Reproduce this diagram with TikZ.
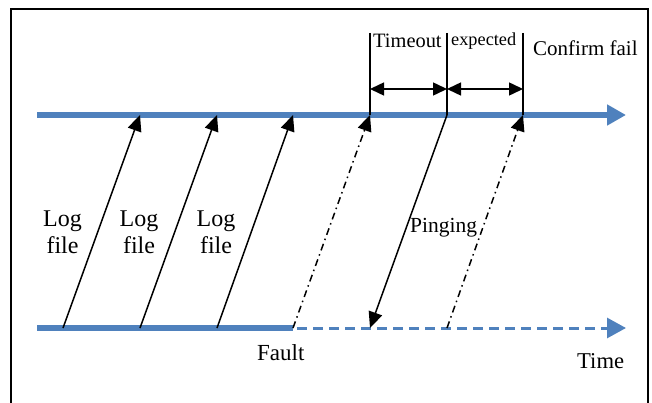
\documentclass[tikz,border=0pt]{standalone}
\usepackage{fontspec}
\setmainfont{Liberation Serif}
\usetikzlibrary{arrows.meta}
\definecolor{tlblue}{RGB}{79,129,189}
\tikzset{
  timeline/.style={draw=tlblue, line width=6.5pt},
  futureline/.style={draw=tlblue, line width=3pt, dash pattern=on 10pt off 6pt},
  bluetip/.style={-{Triangle[length=19pt,width=20pt]}},
  msg/.style={draw=black, line width=1.5pt, -{Triangle[length=16pt,width=14pt]}},
  probe/.style={msg, dash pattern=on 7pt off 4pt on 1.5pt off 4pt},
  marker/.style={draw=black, line width=1.5pt},
  span/.style={draw=black, line width=1.5pt, {Triangle[length=14pt,width=13pt]}-{Triangle[length=14pt,width=13pt]}},
  lbl/.style={inner sep=0pt, anchor=base west, text=black},
}
\begin{document}
\begin{tikzpicture}[x=1pt, y=-1pt]
\useasboundingbox (0,0) rectangle (652,403);
\draw[line width=1.5pt] (11,9) rectangle (648,430);

% timeline coordinates
\coordinate (T0) at (37,115);
\coordinate (T1) at (626,115);
\coordinate (B0) at (37,328);
\coordinate (Bf) at (293,328);
\coordinate (B1) at (626,328);

% top timeline
\draw[timeline, bluetip] (T0) -- (T1);
% bottom timeline
\draw[timeline, line cap=butt] (B0) -- (Bf);
\draw[futureline, bluetip] ([xshift=4pt]Bf) -- (B1);

% points on timelines
\coordinate (b1) at (63,328);
\coordinate (b2) at (140,328);
\coordinate (b3) at (217,328);
\coordinate (b4) at (293,328);
\coordinate (b5) at (370,328);
\coordinate (b6) at (447,328);
\coordinate (t1) at (140,115);
\coordinate (t2) at (217,115);
\coordinate (t3) at (293,115);
\coordinate (t4) at (370,115);
\coordinate (t5) at (447,115);
\coordinate (t6) at (523,115);

% log file arrows
\draw[msg] (b1) -- (t1);
\draw[msg] (b2) -- (t2);
\draw[msg] (b3) -- (t3);
% missing reports
\draw[probe] (b4) -- (t4);
\draw[probe] (b6) -- (t6);
% pinging
\draw[msg] (t5) -- (b5);

% vertical markers
\coordinate (v4) at (370,33);
\coordinate (v5) at (447,33);
\coordinate (v6) at (523,33);
\draw[marker] (v4) -- (t4);
\draw[marker] (v5) -- (t5);
\draw[marker] (v6) -- (t6);

% spans
\coordinate (s4) at (370,89);
\coordinate (s5) at (447,89);
\coordinate (s6) at (523,89);
\draw[span] (s4) -- (s5);
\draw[span] (s5) -- (s6);

% labels
\node[lbl, font=\fontsize{20.4}{22}\selectfont] (timeout) at (373,48) {Timeout};
\node[lbl, font=\fontsize{18.3}{20}\selectfont] (expected) at (451,46) {expected};
\node[lbl, font=\fontsize{21}{23}\selectfont] (confirm) at (533,56) {Confirm fail};
\node[lbl, font=\fontsize{21.5}{23}\selectfont] (pinging) at (410,233) {Pinging};
\node[lbl, font=\fontsize{23}{25}\selectfont] (fault) at (257,360) {Fault};
\node[lbl, font=\fontsize{22.6}{24}\selectfont] (time) at (577,368) {Time};

\foreach \n/\x in {1/62.5, 2/139, 3/216}{
  \node[inner sep=0pt, align=center, font=\fontsize{24}{27}\selectfont] (log\n) at (\x,232.3) {Log\\file};
}
\end{tikzpicture}
\end{document}
